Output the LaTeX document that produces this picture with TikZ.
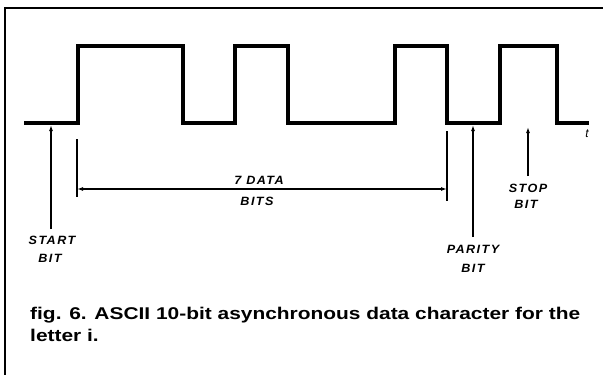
\documentclass[tikz,border=0pt]{standalone}
\usepackage{fontspec}
\setmainfont{Liberation Sans}
\newfontfamily\labfont[LetterSpace=12,FakeStretch=1.05]{Liberation Sans}
\newfontfamily\capfont[FakeStretch=1.23]{Liberation Sans}
\usetikzlibrary{arrows.meta}
\begin{document}
\begin{tikzpicture}[x=1pt,y=-1pt,
  wave/.style={line width=3.5pt, line join=miter},
  frameline/.style={line width=1.8pt},
  conn/.style={line width=1.2pt},
  tipup/.style={-{Latex[length=6pt,width=4pt]}},
  tipboth/.style={{Latex[length=6pt,width=4pt]}-{Latex[length=6pt,width=4pt]}},
  lab/.style={font=\labfont\bfseries\itshape\fontsize{12}{14}\selectfont, inner sep=0pt, anchor=base},
  captext/.style={font=\capfont\bfseries\fontsize{17}{20}\selectfont, inner sep=0pt, anchor=base west}]
\useasboundingbox (0,0) rectangle (603,375);
% frame
\draw[frameline] (603,8) -- (5,8) -- (5,375);
% waveform
\draw[wave] (24,123) -- (78,123) -- (78,46) -- (183,46) -- (183,123) -- (235,123)
  -- (235,46) -- (288,46) -- (288,123) -- (395,123) -- (395,46) -- (447,46)
  -- (447,123) -- (500,123) -- (500,46) -- (557,46) -- (557,123) -- (589,123);
\node[font=\itshape\fontsize{12}{14}\selectfont, inner sep=0pt, anchor=base] (t) at (587,137) {t};
% start bit
\coordinate (sbtop) at (51,125);
\coordinate (sbbot) at (51,229);
\draw[conn,tipup] (sbbot) -- (sbtop);
\node[lab] (start) at (52,244) {START};
\node[lab] (startb) at (50,262) {BIT};
% data bits
\coordinate (d1a) at (77,139);
\coordinate (d1b) at (77,197);
\coordinate (d2a) at (447,131);
\coordinate (d2b) at (447,201);
\coordinate (da) at (77,189);
\coordinate (db) at (447,189);
\draw[conn] (d1a) -- (d1b);
\draw[conn] (d2a) -- (d2b);
\draw[conn,tipboth] (da) -- (db);
\node[lab] (data) at (259,184) {7 DATA};
\node[lab] (bits) at (257,205) {BITS};
% parity bit
\coordinate (pbtop) at (473,125);
\coordinate (pbbot) at (473,237);
\draw[conn,tipup] (pbbot) -- (pbtop);
\node[lab] (parity) at (473,253) {PARITY};
\node[lab] (parityb) at (473,272) {BIT};
% stop bit
\coordinate (stoptop) at (528,127);
\coordinate (stopbot) at (528,176);
\draw[conn,tipup] (stopbot) -- (stoptop);
\node[lab] (stop) at (528,192) {STOP};
\node[lab] (stopb) at (526,208) {BIT};
% caption
\node[captext] (cap1) at (30,319) {fig. 6. ASCII 10-bit asynchronous data character for the};
\node[captext] (cap2) at (30,341) {letter i.};
\end{tikzpicture}
\end{document}
